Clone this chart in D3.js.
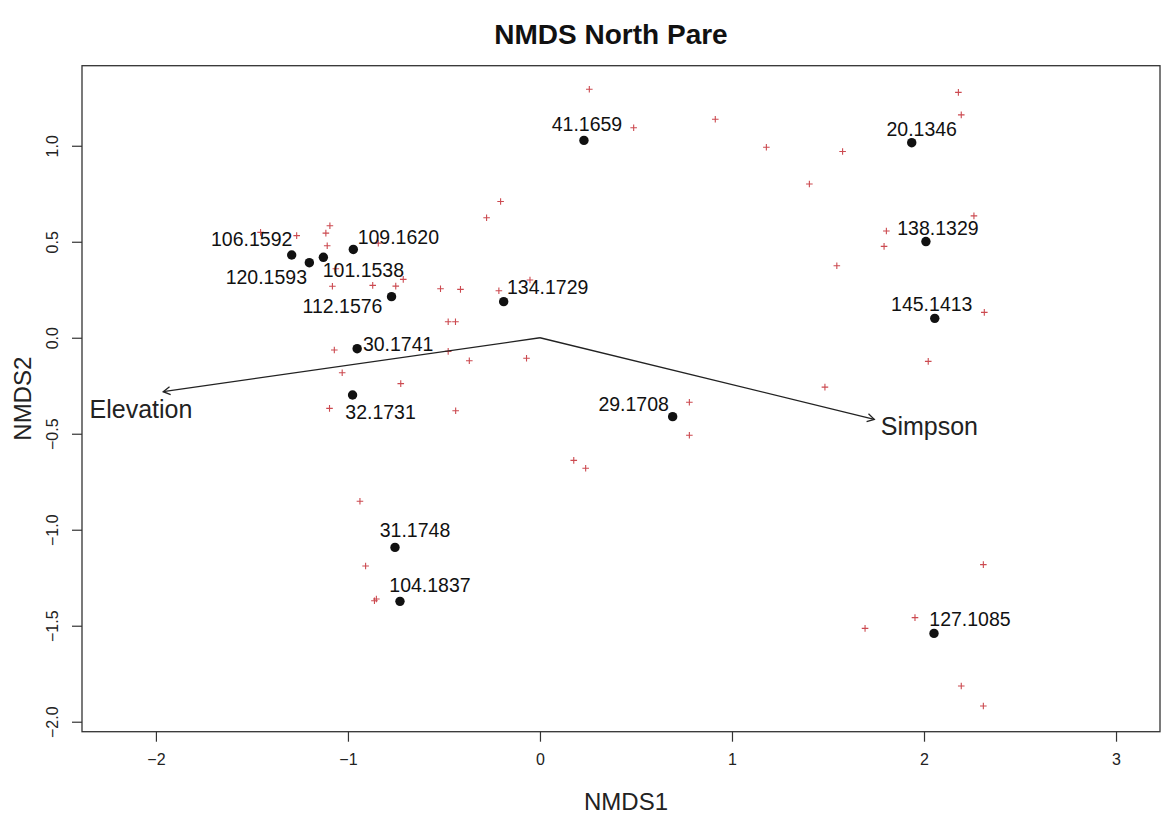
<!DOCTYPE html>
<html>
<head>
<meta charset="utf-8">
<script src="https://cdn.jsdelivr.net/npm/d3@7"></script>
<style>
  html, body { margin: 0; padding: 0; background: #fff; }
  svg { display: block; font-family: "Liberation Sans", Arial, Helvetica, sans-serif; }
</style>
</head>
<body>
<svg id="chart" width="1161" height="816"></svg>
<script>
// Site scores (NMDS1, NMDS2) and their labels
const siteNames = ["41.1659","20.1346","138.1329","145.1413","127.1085","29.1708","134.1729",
  "30.1741","32.1731","112.1576","106.1592","120.1593","101.1538","109.1620","31.1748","104.1837"];
const siteX = [0.229, 1.936, 2.010, 2.056, 2.052, 0.691, -0.189,
  -0.952, -0.976, -0.773, -1.293, -1.201, -1.128, -0.972, -0.755, -0.729];
const siteY = [1.028, 1.016, 0.501, 0.101, -1.540, -0.411, 0.188,
  -0.057, -0.298, 0.214, 0.431, 0.391, 0.419, 0.460, -1.092, -1.373];

// Species scores (NMDS1, NMDS2)
const speciesX = [-1.455,-1.267,-1.094,-1.115,-1.108,-0.842,-1.063,-0.712,-1.081,-0.871,-0.751,-0.518,-0.414,
  0.257,0.488,0.913,1.179,1.403,1.576,-0.205,-0.278,1.546,-0.214,-0.052,2.179,2.194,2.260,1.804,1.792,
  -0.478,-0.440,-1.071,-0.478,-1.030,-0.725,-1.096,-0.439,-0.9375,-0.368,-0.070,0.778,0.778,0.176,0.238,
  1.484,2.314,2.022,-0.908,-0.862,-0.852,2.309,1.953,1.693,2.194,2.309];
const speciesY = [0.549,0.532,0.583,0.545,0.479,0.493,0.359,0.304,0.268,0.273,0.269,0.255,0.252,
  1.294,1.094,1.138,0.992,0.801,0.970,0.710,0.625,0.375,0.245,0.301,1.278,1.161,0.635,0.556,0.476,
  0.083,0.083,-0.064,-0.071,-0.182,-0.239,-0.368,-0.380,-0.852,-0.120,-0.107,-0.336,-0.508,-0.639,-0.680,
  -0.257,0.132,-0.123,-1.189,-1.370,-1.361,-1.182,-1.458,-1.514,-1.814,-1.918];

// Fitted environmental vectors
const vectorNames = ["Elevation", "Simpson"];
const vectorX = [-1.962, 1.741];
const vectorY = [-0.281, -0.425];
const vectorLabelX = [-2.078, 2.028];
const vectorLabelY = [-0.373, -0.461];

// Axis ticks
const xTicks = [-2, -1, 0, 1, 2, 3];
const yTicks = [1.0, 0.5, 0.0, -0.5, -1.0, -1.5, -2.0];

// Label placement around each site point (pixel offsets of the label centre)
const labelOffset = {
  "41.1659": [3, -16], "20.1346": [10, -14], "138.1329": [12, -14], "145.1413": [-3, -14],
  "127.1085": [36, -14], "29.1708": [-39, -13], "134.1729": [44, -15], "30.1741": [41, -5],
  "32.1731": [28, 17], "112.1576": [-49, 9], "106.1592": [-40, -16], "120.1593": [-43, 14],
  "101.1538": [40, 13], "109.1620": [45, -12], "31.1748": [20, -17], "104.1837": [30, -16]
};

const svg = d3.select("#chart");
const plot = { left: 82, right: 1160, top: 65.7, bottom: 731.7 };

const x = d3.scaleLinear().domain([-2.385, 3.229]).range([plot.left, plot.right]);
const y = d3.scaleLinear().domain([-2.052, 1.417]).range([plot.bottom, plot.top]);

const minus = s => s.replace("-", "\u2212");

// Title
svg.append("text")
  .attr("x", 611).attr("y", 44)
  .attr("text-anchor", "middle")
  .attr("font-weight", "bold").attr("font-size", 28)
  .attr("fill", "#111")
  .text("NMDS North Pare");

// Axes
const xAxis = d3.axisBottom(x).tickValues(xTicks).tickSize(10).tickPadding(12)
  .tickFormat(d => minus(d3.format("d")(d)));
const gx = svg.append("g").attr("transform", `translate(0,${plot.bottom})`).call(xAxis);
gx.select(".domain").remove();
gx.selectAll("line").attr("stroke", "#333").attr("stroke-width", 1.2);
gx.selectAll("text").attr("font-size", 16).attr("fill", "#222")
  .attr("font-family", "'Liberation Sans', Arial, sans-serif");

const yAxis = d3.axisLeft(y).tickValues(yTicks).tickSize(10).tickPadding(0)
  .tickFormat(d => minus(d3.format(".1f")(d)));
const gy = svg.append("g").attr("transform", `translate(${plot.left},0)`).call(yAxis);
gy.select(".domain").remove();
gy.selectAll("line").attr("stroke", "#333").attr("stroke-width", 1.2);
gy.selectAll("text")
  .attr("font-size", 16).attr("fill", "#222")
  .attr("font-family", "'Liberation Sans', Arial, sans-serif")
  .attr("x", null).attr("dy", null)
  .attr("text-anchor", "middle")
  .attr("transform", "translate(-30,0) rotate(-90)")
  .attr("dominant-baseline", "central");

// Frame
svg.append("rect")
  .attr("x", plot.left).attr("y", plot.top)
  .attr("width", plot.right - plot.left).attr("height", plot.bottom - plot.top)
  .attr("fill", "none").attr("stroke", "#333").attr("stroke-width", 1.3);

// Axis titles
svg.append("text")
  .attr("x", 626).attr("y", 810)
  .attr("text-anchor", "middle").attr("font-size", 24).attr("fill", "#222")
  .text("NMDS1");
svg.append("text")
  .attr("transform", `translate(31,${(plot.top + plot.bottom) / 2}) rotate(-90)`)
  .attr("text-anchor", "middle").attr("font-size", 24).attr("fill", "#222")
  .text("NMDS2");

// Species crosses
const species = speciesX.map((v, i) => ({ x: v, y: speciesY[i] }));
svg.append("g").attr("stroke", "#cc4a50").attr("stroke-width", 1.1)
  .selectAll("path").data(species).join("path")
  .attr("d", d => {
    const cx = x(d.x), cy = y(d.y), s = 3.3;
    return `M${cx - s},${cy}H${cx + s}M${cx},${cy - s}V${cy + s}`;
  });

// Environmental vectors
const vectors = vectorNames.map((n, i) => ({
  name: n, x: vectorX[i], y: vectorY[i], lx: vectorLabelX[i], ly: vectorLabelY[i]
}));
const gv = svg.append("g").attr("stroke", "#222").attr("stroke-width", 1.3).attr("fill", "none");
vectors.forEach(v => {
  const x0 = x(0), y0 = y(0), x1 = x(v.x), y1 = y(v.y);
  gv.append("line").attr("x1", x0).attr("y1", y0).attr("x2", x1).attr("y2", y1);
  const ang = Math.atan2(y1 - y0, x1 - x0), len = 8, spread = Math.PI / 6;
  gv.append("path").attr("d",
    `M${x1 - len * Math.cos(ang - spread)},${y1 - len * Math.sin(ang - spread)}` +
    `L${x1},${y1}` +
    `L${x1 - len * Math.cos(ang + spread)},${y1 - len * Math.sin(ang + spread)}`);
});
svg.append("g").selectAll("text").data(vectors).join("text")
  .attr("x", d => x(d.lx)).attr("y", d => y(d.ly))
  .attr("text-anchor", "middle").attr("dominant-baseline", "central")
  .attr("font-size", 25).attr("fill", "#222")
  .text(d => d.name);

// Site points and labels
const sites = siteNames.map((n, i) => ({ name: n, x: siteX[i], y: siteY[i] }));
svg.append("g").selectAll("circle").data(sites).join("circle")
  .attr("cx", d => x(d.x)).attr("cy", d => y(d.y)).attr("r", 4.7)
  .attr("fill", "#111");
svg.append("g").selectAll("text").data(sites).join("text")
  .attr("x", d => x(d.x) + labelOffset[d.name][0])
  .attr("y", d => y(d.y) + labelOffset[d.name][1])
  .attr("text-anchor", "middle").attr("dominant-baseline", "central")
  .attr("font-size", 19.5).attr("fill", "#111")
  .text(d => d.name);
</script>
</body>
</html>
